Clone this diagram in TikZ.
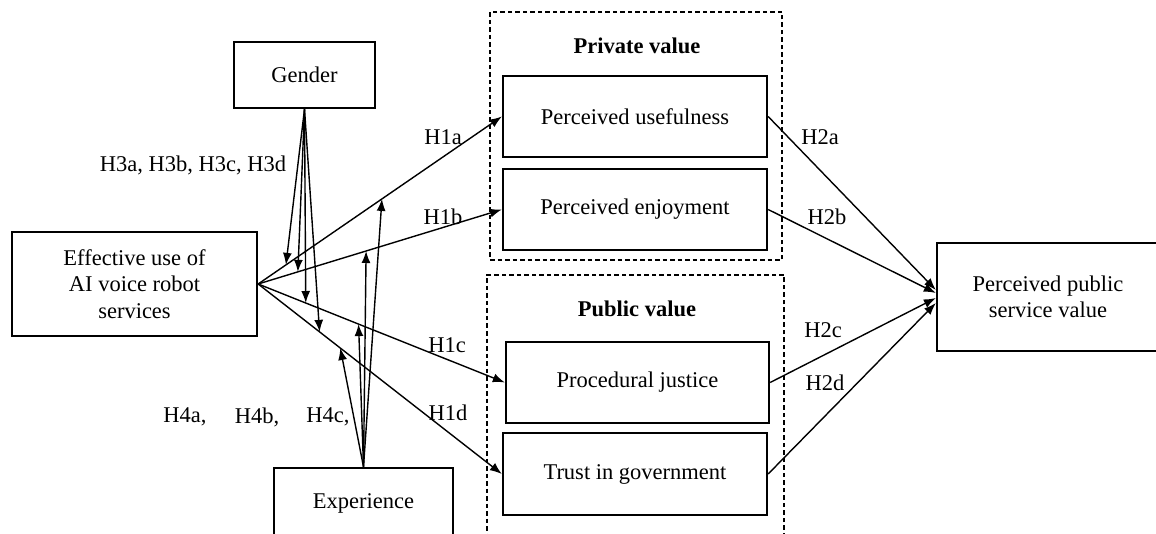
\documentclass[tikz,border=0pt]{standalone}
\usepackage{fontspec}
\setmainfont{Liberation Serif}
\usetikzlibrary{arrows.meta}

\begin{document}
\begin{tikzpicture}[x=1pt,y=-1pt,->,>={Latex[length=12pt,width=9pt]},
line width=1.4pt,font=\fontsize{22.5}{26.5}\selectfont]
\tikzstyle{box}=[draw,-,line width=2.3pt,align=center,inner sep=0pt]
\tikzstyle{group}=[draw,-,dash pattern=on 4.5pt off 3pt,line width=1.9pt,inner sep=0pt]
\tikzstyle{hyp}=[inner sep=0pt]
\useasboundingbox (0,0) rectangle (1156,534);
% dashed groups
\node[group,minimum width=292pt,minimum height=248pt] (private) at (636,136) {};
\node[group,minimum width=297pt,minimum height=265pt] (public) at (635.5,407.5) {};
\node (privlab) at (637,46) {\textbf{Private value}};
\node (publab)  at (637,309) {\textbf{Public value}};
% constructs
\node[box,minimum width=141pt,minimum height=66pt]  (gender)  at (304.5,75)  {Gender};
\node[box,minimum width=245pt,minimum height=104pt] (eff)     at (134.5,284) {Effective use of\\AI voice robot\\services};
\node[box,minimum width=179pt,minimum height=70pt]  (exper)   at (363.5,503) {Experience};
\node[box,minimum width=264pt,minimum height=81pt]  (useful)  at (635,116.5) {Perceived usefulness};
\node[box,minimum width=264pt,minimum height=81pt]  (enjoy)   at (635,209.5) {Perceived enjoyment};
\node[box,minimum width=263pt,minimum height=81pt]  (justice) at (637.5,382.5) {Procedural justice};
\node[box,minimum width=264pt,minimum height=82pt]  (trust)   at (635,474) {Trust in government};
\node[box,minimum width=222pt,minimum height=108pt] (ppsv)    at (1048,297) {Perceived public\\service value};
% H1 paths, with points for the moderators
\draw (eff.east) -- coordinate[pos=0.114] (ga) coordinate[pos=0.508] (ea) (useful.west);
\draw (eff.east) -- coordinate[pos=0.163] (gb) coordinate[pos=0.443] (eb) (enjoy.west);
\draw (eff.east) -- coordinate[pos=0.193] (gc) coordinate[pos=0.407] (ec) (justice.west);
\draw (eff.east) -- coordinate[pos=0.252] (gd) coordinate[pos=0.337] (ed) (trust.west);
% moderators
\foreach \p in {ga,gb,gc,gd} \draw (gender.south) -- (\p);
\foreach \p in {ea,eb,ec,ed} \draw (exper.north) -- (\p);
% H2 paths
\draw (useful.east)  -- ([yshift=7pt]ppsv.west);
\draw (enjoy.east)   -- ([yshift=4pt]ppsv.west);
\draw (justice.east) -- ([yshift=-1pt]ppsv.west);
\draw (trust.east)   -- ([yshift=-6pt]ppsv.west);
% labels
\node[hyp] (h1a) at (443,137) {H1a};
\node[hyp] (h1b) at (443,217) {H1b};
\node[hyp] (h1c) at (447,345) {H1c};
\node[hyp] (h1d) at (448,413) {H1d};
\node[hyp] (h2a) at (820,137) {H2a};
\node[hyp] (h2b) at (827,217) {H2b};
\node[hyp] (h2c) at (823,330) {H2c};
\node[hyp] (h2d) at (825,383) {H2d};
\node[hyp] (h3)  at (193,165) {H3a, H3b, H3c, H3d};
\node[hyp] (h4a) at (185,417) {H4a,};
\node[hyp] (h4b) at (257,417) {H4b,};
\node[hyp] (h4c) at (328,417) {H4c,};
\end{tikzpicture}
\end{document}
